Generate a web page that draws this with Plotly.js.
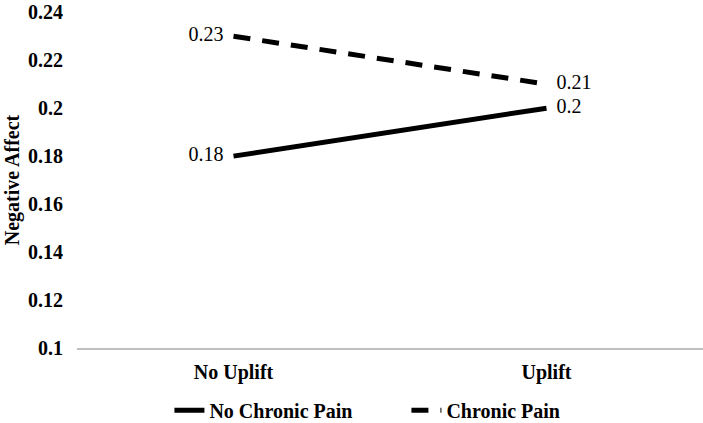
<!DOCTYPE html>
<html>
<head>
<meta charset="utf-8">
<script src="https://cdn.plot.ly/plotly-3.0.1.min.js"></script>
<style>html,body{margin:0;padding:0;background:#fff;}#chart{width:703px;height:423px;}</style>
</head>
<body>
<div id="chart"></div>
<script>
const categories = ["No Uplift", "Uplift"];
const noChronicPain = [0.18, 0.2];
const chronicPain = [0.23, 0.21];
const seriesNames = ["No Chronic Pain", "Chronic Pain"];
const yTickVals = [0.1, 0.12, 0.14, 0.16, 0.18, 0.2, 0.22, 0.24];

const serif = "Liberation Serif";

function labels(vals) {
  return vals.map((v, i) => i === 0 ? String(v) + "  " : "  " + String(v));
}

const traces = [
  {
    x: categories, y: noChronicPain, name: seriesNames[0],
    type: "scatter", mode: "lines+text",
    line: {color: "#000", width: 5},
    text: labels(noChronicPain),
    textposition: ["middle left", "middle right"],
    textfont: {family: serif, size: 20, color: "#000"},
    hoverinfo: "skip"
  },
  {
    x: categories, y: chronicPain, name: seriesNames[1],
    type: "scatter", mode: "lines+text",
    line: {color: "#000", width: 5, dash: "17px,12px"},
    text: labels(chronicPain),
    textposition: ["middle left", "middle right"],
    textfont: {family: serif, size: 20, color: "#000"},
    hoverinfo: "skip"
  }
];

const layout = {
  width: 703, height: 423,
  margin: {l: 77, r: 0, t: 12, b: 75},
  paper_bgcolor: "#fff", plot_bgcolor: "#fff",
  font: {family: serif, color: "#000"},
  showlegend: true,
  legend: {
    orientation: "h", xref: "container", yref: "container",
    x: 0.241, xanchor: "left", y: 0.03, yanchor: "middle",
    font: {family: serif, size: 20, weight: "bold", color: "#000"},
    entrywidth: 192, entrywidthmode: "pixels"
  },
  xaxis: {
    type: "category", range: [-0.5, 1.5],
    showline: true, linecolor: "#bfbfbf", linewidth: 1.5,
    showgrid: false, zeroline: false, ticks: "",
    ticklabelstandoff: 5,
    tickfont: {family: serif, size: 20, weight: "bold", color: "#000"}
  },
  yaxis: {
    range: [0.1, 0.2401], tickvals: yTickVals,
    ticktext: yTickVals.map(String),
    ticklabeloverflow: "allow",
    showline: false, showgrid: false, zeroline: false, ticks: "",
    ticklabelstandoff: 13,
    tickfont: {family: serif, size: 20, weight: "bold", color: "#000"},
    title: {text: "Negative Affect", standoff: 3, font: {family: serif, size: 20, weight: "bold", color: "#000"}}
  }
};

Plotly.newPlot("chart", traces, layout, {displayModeBar: false, staticPlot: true});
</script>
</body>
</html>
